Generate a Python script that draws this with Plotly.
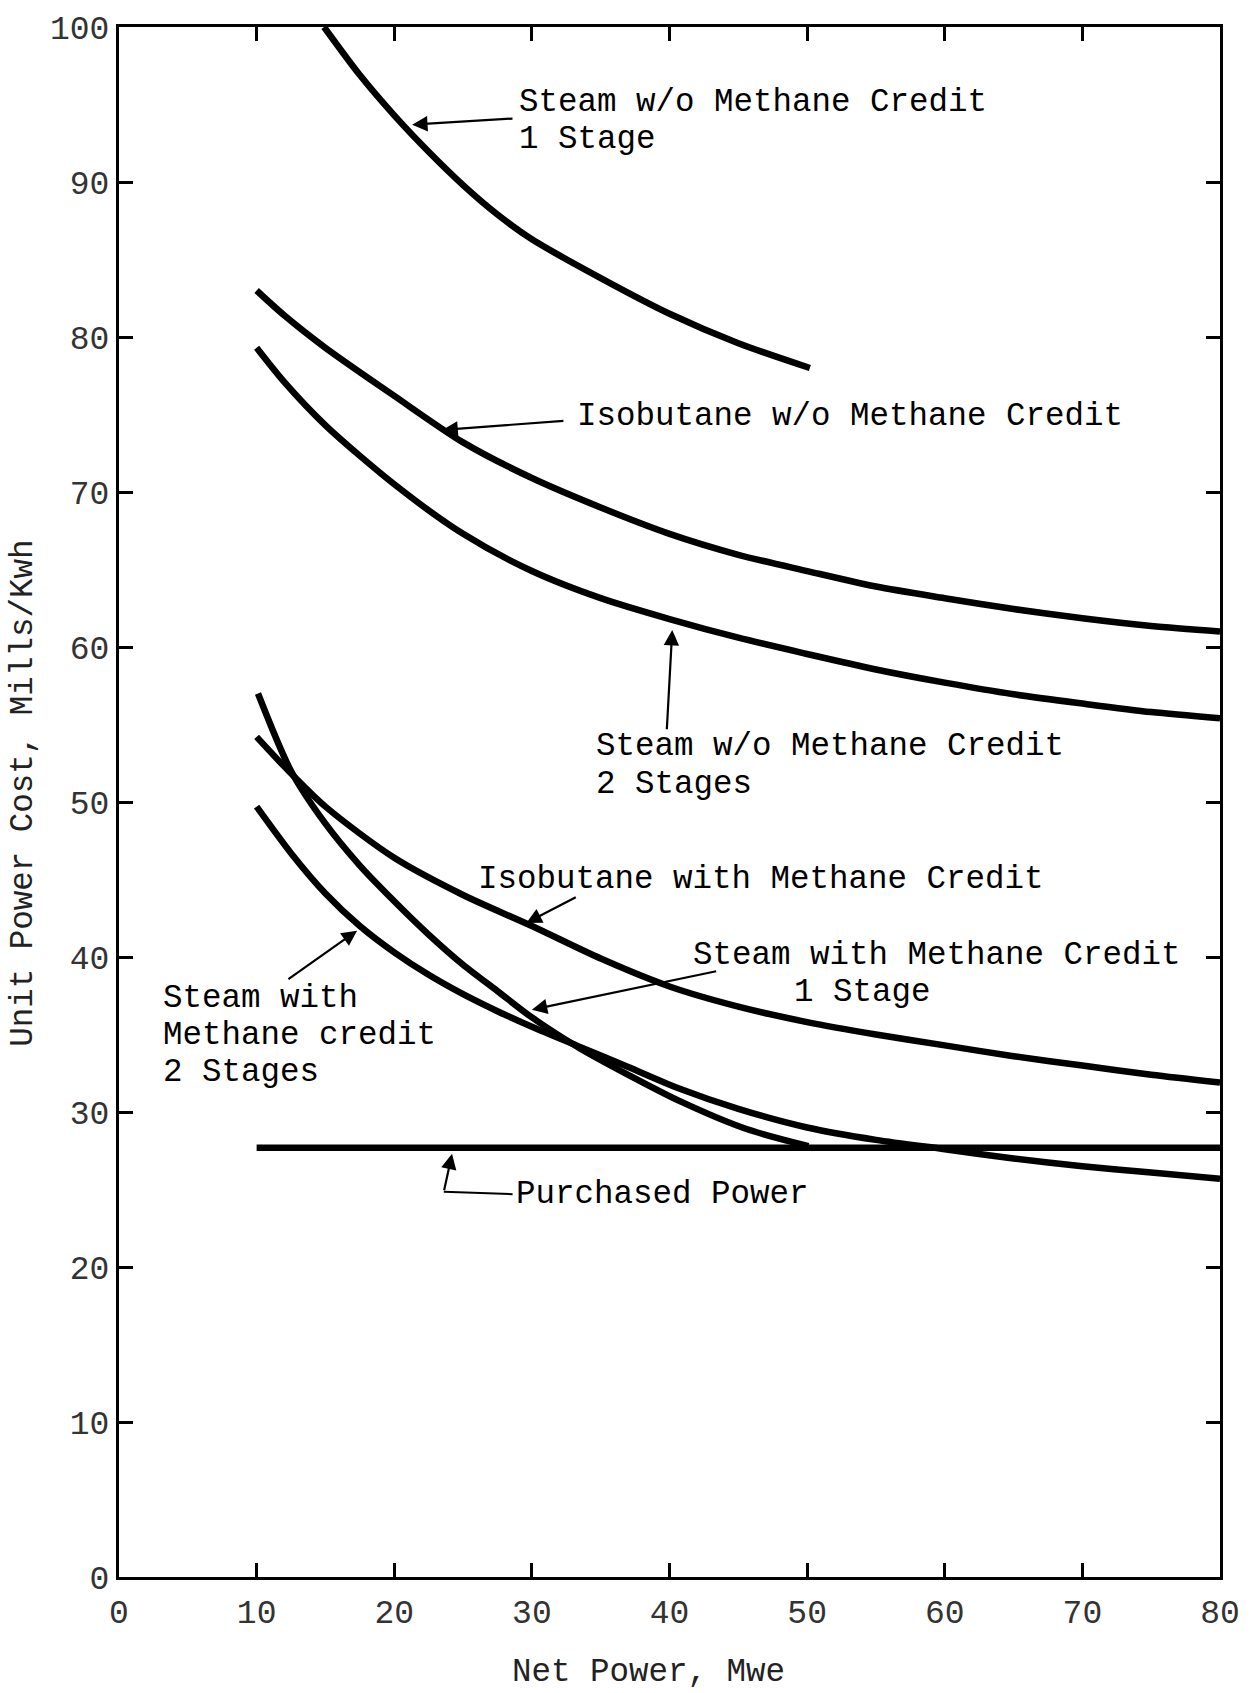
import plotly.graph_objects as go

# ---- data ----
s1_x = [14.9, 17.5, 20, 22.5, 25, 27.5, 30, 35, 40, 45, 50.2]
s1_y = [100, 96.9, 94.3, 91.95, 89.8, 87.9, 86.3, 83.8, 81.5, 79.6, 78.0]

iso_wo_x = [10, 12, 15, 20, 25, 30, 35, 40, 45, 50, 55, 60, 65, 70, 75, 80]
iso_wo_y = [83.0, 81.4, 79.3, 76.2, 73.2, 70.9, 69.0, 67.3, 65.95, 64.9, 63.9, 63.15, 62.45, 61.85, 61.35, 61.0]

s2_x = [10, 12, 15, 20, 25, 30, 35, 40, 45, 50, 55, 60, 65, 70, 75, 80]
s2_y = [79.3, 77.1, 74.3, 70.5, 67.3, 64.9, 63.15, 61.8, 60.6, 59.55, 58.55, 57.7, 56.95, 56.35, 55.8, 55.4]

iso_w_x = [10, 12, 15, 20, 25, 30, 35, 40, 45, 50, 55, 60, 65, 70, 75, 80]
iso_w_y = [54.2, 52.3, 49.7, 46.4, 44.0, 42.0, 39.9, 38.1, 36.8, 35.8, 35.0, 34.3, 33.6, 33.0, 32.4, 31.9]

s1m_x = [10.1, 12.5, 15, 17.5, 20, 22.5, 25, 27.5, 30, 33.5, 37, 40.75, 45.6, 50.1]
s1m_y = [57.0, 52.0, 48.6, 45.9, 43.6, 41.45, 39.5, 37.8, 36.1, 34.1, 32.4, 30.7, 28.9, 27.8]

s2m_x = [10, 12.5, 15, 17.5, 20, 22.5, 25, 27.5, 30, 33.5, 37, 40.75, 45, 50, 55, 60, 65, 70, 75, 80]
s2m_y = [49.7, 46.7, 44.1, 42.0, 40.3, 38.85, 37.6, 36.5, 35.5, 34.2, 32.9, 31.5, 30.2, 29.0, 28.2, 27.6, 27.0, 26.5, 26.1, 25.7]

pp_x = [10, 80]
pp_y = [27.7, 27.7]

x_ticks = [0, 10, 20, 30, 40, 50, 60, 70, 80]
y_ticks = [0, 10, 20, 30, 40, 50, 60, 70, 80, 90, 100]

# labels: (text, x, y)
labels = [
    ("Steam w/o Methane Credit", 29.0, 95.13),
    ("1 Stage", 29.0, 92.73),
    ("Isobutane w/o Methane Credit", 33.2, 74.9),
    ("Steam w/o Methane Credit", 34.6, 53.55),
    ("2 Stages", 34.6, 51.15),
    ("Isobutane with Methane Credit", 26.0, 45.0),
    ("Steam with Methane Credit", 41.6, 40.08),
    ("1 Stage", 49.0, 37.68),
    ("Steam with", 3.1, 37.35),
    ("Methane credit", 3.1, 34.95),
    ("2 Stages", 3.1, 32.55),
    ("Purchased Power", 28.8, 24.65),
]

# arrows: (tail_x, tail_y, head_x, head_y)
arrows = [
    (28.7, 94.1, 21.3, 93.7),
    (32.4, 74.6, 23.5, 74.0),
    (39.8, 54.6, 40.2, 61.1),
    (33.3, 43.9, 29.6, 42.2),
    (43.5, 39.1, 30.0, 36.6),
    (12.2, 38.5, 17.3, 41.7),
    (23.6, 24.85, 24.2, 27.3),
]
pp_leader_x = [23.6, 28.6]
pp_leader_y = [24.85, 24.7]

FONT = "Liberation Mono"

fig = go.Figure()
for xs, ys in [(s1_x, s1_y), (iso_wo_x, iso_wo_y), (s2_x, s2_y),
               (iso_w_x, iso_w_y), (s1m_x, s1m_y), (s2m_x, s2m_y),
               (pp_x, pp_y)]:
    fig.add_trace(go.Scatter(x=xs, y=ys, mode="lines",
                             line=dict(color="black", width=6.5, shape="spline", smoothing=0.8),
                             showlegend=False, hoverinfo="skip", cliponaxis=True))

fig.add_trace(go.Scatter(x=pp_leader_x, y=pp_leader_y, mode="lines",
                         line=dict(color="black", width=2),
                         showlegend=False, hoverinfo="skip"))

for t, x, y in labels:
    fig.add_annotation(x=x, y=y, xref="x", yref="y", text=t, showarrow=False,
                       xanchor="left", yanchor="middle", borderpad=0,
                       font=dict(family=FONT, size=32.5, color="black"))

for tx, ty, hx, hy in arrows:
    fig.add_annotation(x=hx, y=hy, ax=tx, ay=ty, xref="x", yref="y",
                       axref="x", ayref="y", text="", showarrow=True,
                       arrowhead=2, arrowsize=1.4, arrowwidth=2.2, arrowcolor="black")

# axis titles
fig.add_annotation(x=0.4805, y=-0.0615, xref="paper", yref="paper",
                   text="Net Power, Mwe", showarrow=False,
                   xanchor="center", yanchor="middle", borderpad=0,
                   font=dict(family=FONT, size=32.5, color="#222"))
fig.add_annotation(x=-0.0863, y=0.506, xref="paper", yref="paper",
                   text="Unit Power Cost, Mills/Kwh", showarrow=False, textangle=-90,
                   xanchor="center", yanchor="middle",
                   font=dict(family=FONT, size=32.5, color="#222"))

fig.update_xaxes(range=[0, 80], tickvals=x_ticks, ticktext=[str(v) for v in x_ticks],
                 showgrid=False, zeroline=False, showline=True, linecolor="black",
                 linewidth=3, mirror="ticks", ticks="inside", ticklen=14, tickwidth=3,
                 tickcolor="black", ticklabelstandoff=3,
                 tickfont=dict(family=FONT, size=33, color="#333"))
fig.update_yaxes(range=[0, 100], tickvals=y_ticks, ticktext=[str(v) for v in y_ticks],
                 showgrid=False, zeroline=False, showline=True, linecolor="black",
                 linewidth=3, mirror="ticks", ticks="inside", ticklen=14, tickwidth=3,
                 tickcolor="black", ticklabelstandoff=0,
                 tickfont=dict(family=FONT, size=33, color="#333"))

fig.update_layout(width=1254, height=1693, plot_bgcolor="white", paper_bgcolor="white",
                  margin=dict(l=119, r=34, t=22, b=116), showlegend=False)

fig.write_html("out.html")
